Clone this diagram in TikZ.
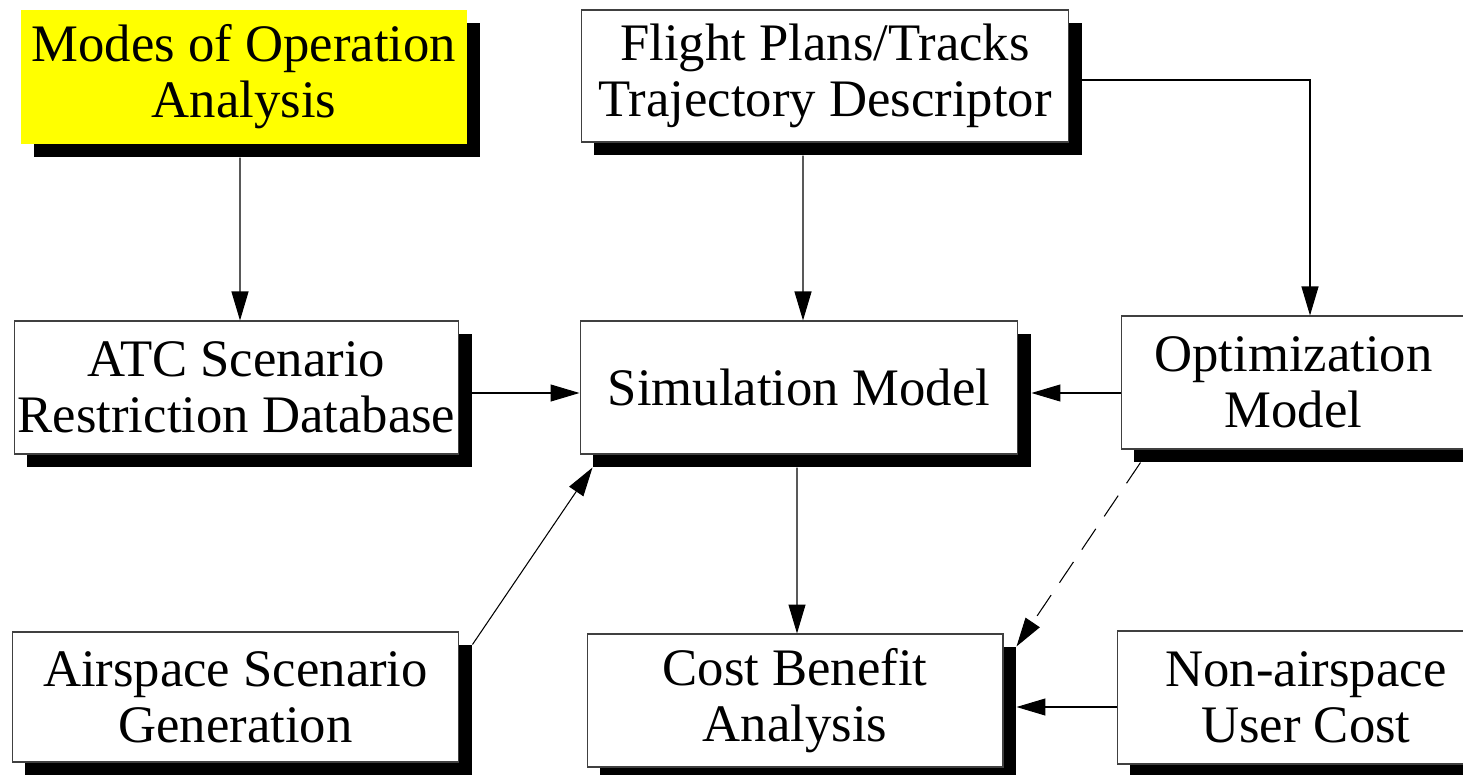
\documentclass[tikz,border=0pt]{standalone}
\usepackage{fontspec}
\setmainfont{Liberation Serif}
\usetikzlibrary{shadows, arrows.meta, calc}
\definecolor{mode_yellow}{RGB}{255,255,0}
\newcommand{\shoff}{0.26cm}

\begin{document}
\begin{tikzpicture}[x=0.02cm, y=-0.02cm,
    box/.style={draw=black!75, line width=0.6pt, fill=white, align=center, inner sep=0pt,
        font=\fontsize{30}{32}\selectfont,
        drop shadow={shadow xshift=\shoff, shadow yshift=-\shoff, fill=black, opacity=1}},
    arr/.style={-{Triangle[length=0.58cm, width=0.34cm]}, line width=0.6pt}]
    \useasboundingbox (0,0) rectangle (1463,774);

    % boxes
    \node[box, draw=none, fill=mode_yellow, minimum width=8.92cm, minimum height=2.68cm] (modes) at (244,77) {Modes of Operation\\Analysis};
    \node[box, minimum width=9.76cm, minimum height=2.64cm] (flight) at (825,76) {Flight Plans/Tracks\\Trajectory Descriptor};
    \node[box, minimum width=8.9cm, minimum height=2.66cm] (atc) at (236.5,387.5) {ATC Scenario\\Restriction Database};
    \node[box, minimum width=8.76cm, minimum height=2.66cm] (sim) at (799,387.5) {Simulation Model};
    \node[box, minimum width=6.9cm, minimum height=2.66cm] (opt) at (1293.5,382.5) {Optimization\\Model};
    \node[box, minimum width=8.94cm, minimum height=2.6cm] (airspace) at (235.5,697) {Airspace Scenario\\Generation};
    \node[box, minimum width=8.32cm, minimum height=2.66cm] (cost) at (795,700.5) {Cost Benefit\\Analysis};
    \node[box, minimum width=7.56cm, minimum height=2.66cm] (nonair) at (1306,697.5) {Non-airspace\\User Cost};

    % connectors
    \draw[arr] ([xshift=-0.08cm, yshift=-\shoff]modes.south) -- ([xshift=0.07cm]atc.north);
    \draw[arr] ([xshift=-0.44cm, yshift=-\shoff]flight.south) -- ([xshift=0.08cm]sim.north);
    \draw[arr] ([yshift=-0.08cm]flight.east) -| ([xshift=0.33cm]opt.north);
    \draw[arr] ([yshift=-0.11cm]atc.east) -- ([yshift=-0.11cm]atc.east -| sim.west);
    \draw[arr] ([yshift=-0.21cm]opt.west) -- ($([yshift=-0.21cm]opt.west -| sim.east)+(13,0)$);
    \draw[arr] ([xshift=-0.04cm, yshift=-\shoff]sim.south) -- ([xshift=0.04cm]cost.north);
    \draw[arr] ([xshift=\shoff, yshift=-\shoff]airspace.north east) -- ([xshift=\shoff, yshift=-\shoff]sim.south west);
    \draw[arr, dash pattern=on 0.5cm off 0.3cm] ([xshift=0.4cm, yshift=-\shoff]opt.south west) -- ([xshift=\shoff, yshift=-\shoff]cost.north east);
    \draw[arr] ([yshift=-0.19cm]nonair.west) -- ($([yshift=-0.19cm]nonair.west -| cost.east)+(13,0)$);

\end{tikzpicture}
\end{document}
